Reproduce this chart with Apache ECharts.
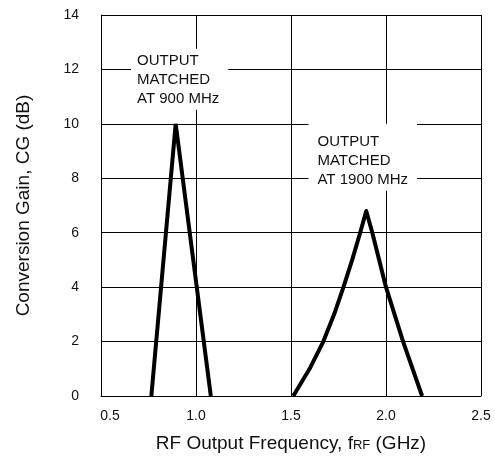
<!DOCTYPE html>
<html>
<head>
<meta charset="utf-8">
<script src="https://cdn.jsdelivr.net/npm/echarts@6/dist/echarts.min.js"></script>
<style>html,body{margin:0;padding:0;background:#fff}#c{width:495px;height:456px}</style>
</head>
<body>
<div id="c"></div>
<script>
const xTicks = [0.5, 1.0, 1.5, 2.0, 2.5];
const yTicks = [0, 2, 4, 6, 8, 10, 12, 14];
const freq900 = [0.765, 0.893, 1.078];
const gain900 = [0, 10, 0];
const freq1900 = [1.512, 1.598, 1.67, 1.727, 1.776, 1.822, 1.864, 1.896, 1.928, 2.0, 2.09, 2.19];
const gain1900 = [0, 1, 2, 3, 4, 5, 6, 6.8, 6, 4, 2, 0];
const note900 = 'OUTPUT\nMATCHED\nAT 900 MHz';
const note1900 = 'OUTPUT\nMATCHED\nAT 1900 MHz';
const note900At = [0.658, 12.76];
const note1900At = [1.592, 10.0];

const FONT = '"Liberation Sans", Arial, Helvetica, sans-serif';
const chart = echarts.init(document.getElementById('c'), null, {renderer: 'canvas'});
const lineStyleGrid = {color: '#000', width: 1};
function pairs(xs, ys) { return xs.map((x, i) => [x, ys[i]]); }
function note(text, at, pad) {
  return {
    coord: at, symbol: 'circle', symbolSize: 0,
    label: {
      show: true, formatter: text, position: [0, 0], align: 'left', verticalAlign: 'top',
      fontFamily: FONT, fontSize: 15, lineHeight: 19, color: '#111',
      backgroundColor: '#fff', padding: pad
    }
  };
}
chart.setOption({
  animation: false,
  grid: {left: 101, right: 14, top: 15, bottom: 60, containLabel: false, outerBoundsMode: 'none'},
  xAxis: {
    type: 'value', min: xTicks[0], max: xTicks[xTicks.length - 1], interval: 0.5,
    axisLine: {show: true, lineStyle: lineStyleGrid},
    axisTick: {show: false},
    splitLine: {show: true, lineStyle: lineStyleGrid},
    axisLabel: {
      fontFamily: FONT, fontSize: 14, color: '#111', margin: 13,
      formatter: v => (v === xTicks[0] ? '{s|' + v.toFixed(1) + '}' : v.toFixed(1)),
      rich: {s: {fontFamily: FONT, fontSize: 14, color: '#111', padding: [0, 0, 0, 18]}}
    },
    name: '{a|RF Output Frequency, f}{b|RF}{a| (GHz)}',
    nameLocation: 'middle', nameGap: 38,
    nameTextStyle: {
      rich: {
        a: {fontFamily: FONT, fontSize: 19, color: '#111'},
        b: {fontFamily: FONT, fontSize: 13, color: '#111', padding: [4, 0, 0, 0]}
      }
    }
  },
  yAxis: {
    type: 'value', min: yTicks[0], max: yTicks[yTicks.length - 1], interval: 2,
    axisLine: {show: true, lineStyle: lineStyleGrid},
    axisTick: {show: false},
    splitLine: {show: true, lineStyle: lineStyleGrid},
    axisLabel: {fontFamily: FONT, fontSize: 14, color: '#111', margin: 22},
    name: 'Conversion Gain, CG (dB)',
    nameLocation: 'middle', nameGap: 68, nameRotate: 90,
    nameTextStyle: {fontFamily: FONT, fontSize: 19, color: '#111'}
  },
  series: [
    {
      type: 'line', data: pairs(freq900, gain900), showSymbol: false, symbol: 'none',
      lineStyle: {color: '#000', width: 4}, z: 3,
      markPoint: {data: [note(note900, note900At, [3, 9, 1, 6])], animation: false}
    },
    {
      type: 'line', data: pairs(freq1900, gain1900), showSymbol: false, symbol: 'none',
      lineStyle: {color: '#000', width: 4, join: 'round'}, z: 3,
      markPoint: {data: [note(note1900, note1900At, [9, 9, 1, 9])], animation: false}
    }
  ]
});
</script>
</body>
</html>
